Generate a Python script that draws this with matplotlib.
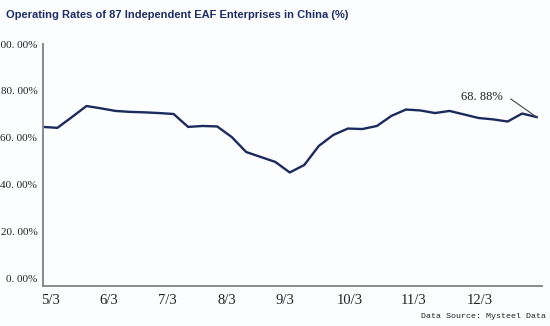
import matplotlib
matplotlib.use("Agg")
import matplotlib.pyplot as plt
import numpy as np

# weekly operating rate, %
rates = [64.7, 64.3, 68.9, 73.6, 72.6, 71.5, 71.1, 70.9, 70.6, 70.2,
         64.7, 65.1, 64.9, 60.4, 54.0, 51.9, 49.8, 45.3, 48.5, 56.6,
         61.3, 64.0, 63.8, 65.1, 69.4, 72.1, 71.7, 70.6, 71.5, 70.0,
         68.5, 67.9, 67.0, 70.4, 68.88]

month_labels = ['5/3', '6/3', '7/3', '8/3', '9/3', '10/3', '11/3', '12/3']
month_pos = [0.5, 4.5, 8.6, 12.7, 16.7, 21.1, 25.5, 30.1]

y_ticks = [0, 20, 40, 60, 80, 100]

title = 'Operating Rates of 87 Independent EAF Enterprises in China (%)'
source = 'Data Source: Mysteel Data'

bg = '#fcfdff'
navy = '#1b2a5c'

fig = plt.figure(figsize=(5.5, 3.26), dpi=100, facecolor=bg)
ax = fig.add_axes([0.078, 0.123, 0.907, 0.742], facecolor=bg)

x = np.arange(len(rates))
ax.plot(x, rates, color=navy, lw=1.7, solid_joinstyle='round')

ax.set_xlim(0, 34.35)
ax.set_ylim(-3, 100)

ax.set_yticks(y_ticks)
ax.set_yticklabels(['{:.2f}%'.format(v).replace('.', '. ') for v in y_ticks],
                   fontsize=8, family='Liberation Serif', color='#222222')
ax.set_xticks(month_pos)
ax.set_xticklabels(month_labels, fontsize=10.5, family='Liberation Serif', color='#222222')
ax.tick_params(axis='both', length=0)
ax.tick_params(axis='y', pad=4)
ax.tick_params(axis='x', pad=6)

for s in ['top', 'right']:
    ax.spines[s].set_visible(False)
for s in ['left', 'bottom']:
    ax.spines[s].set_color('#8a8a8a')
    ax.spines[s].set_linewidth(1.4)

# last value callout
ax.annotate('{:.2f}%'.format(rates[-1]).replace('.', '. '),
            xy=(x[-1], rates[-1]), xytext=(-55, 20), textcoords='offset pixels',
            ha='center', va='center', fontsize=9, family='Liberation Serif', color='#222222',
            arrowprops=dict(arrowstyle='-', color='#444444', lw=0.8, shrinkA=4, shrinkB=0,
                            relpos=(1, 0.5),
                            connectionstyle='angle,angleA=0,angleB=145,rad=2'))

fig.text(0.01, 0.953, title, fontsize=8, fontweight='bold', color='#1c2d66',
         family='Liberation Sans', ha='left', va='center')
fig.text(0.993, 0.028, source, fontsize=6, family='Liberation Mono', color='#222222',
         ha='right', va='center')

fig.savefig('out.png', dpi=100, facecolor=bg)
